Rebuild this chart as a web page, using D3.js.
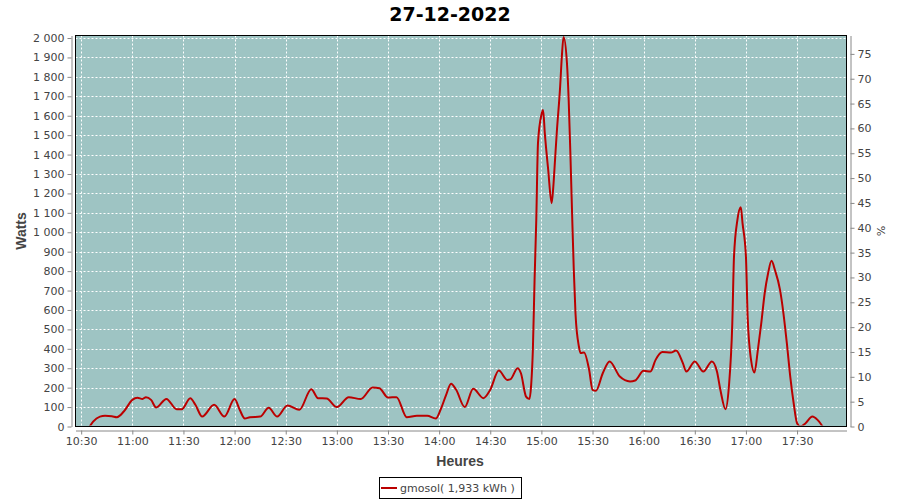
<!DOCTYPE html>
<html><head><meta charset="utf-8">
<script src="https://cdn.jsdelivr.net/npm/d3@7"></script>
<style>body{margin:0;background:#fff}svg{display:block}</style>
</head><body>
<svg id="c" width="900" height="500"></svg>
<script>
const title = "27-12-2022";
const seriesName = "gmosol( 1,933 kWh )";
const timeStart = "10:26:40";
const timeEnd = "17:59:00";
const times = ["10:35","10:37","10:41","10:44","10:48","10:51","10:55","11:00","11:03","11:06","11:08","11:11","11:14","11:20","11:26","11:29","11:34","11:37","11:41","11:48","11:54","12:00","12:03","12:06","12:09","12:15","12:20","12:25","12:31","12:38","12:45","12:49","12:54","13:00","13:07","13:14","13:21","13:25","13:30","13:35","13:41","13:47","13:53","13:58","14:01","14:04","14:07","14:10","14:15","14:20","14:26","14:30","14:35","14:40","14:42","14:46","14:48","14:51","14:53","14:54","14:55","14:56","14:57","14:58","15:00","15:01","15:02","15:04","15:06","15:07","15:08","15:09","15:11","15:12","15:13","15:15","15:16","15:17","15:18","15:19","15:20","15:22","15:23","15:25","15:28","15:30","15:32","15:36","15:40","15:46","15:52","15:55","16:00","16:04","16:07","16:11","16:16","16:19","16:23","16:25","16:30","16:35","16:40","16:43","16:45","16:48","16:50","16:52","16:53","16:55","16:57","16:58","17:00","17:01","17:03","17:05","17:07","17:09","17:11","17:13","17:15","17:17","17:20","17:22","17:24","17:26","17:28","17:30","17:32","17:35","17:39","17:42","17:45"];
const watts = [0,25,51,55,53,48,77,137,148,142,151,137,98,142,89,89,146,112,51,112,51,141,86,41,48,51,96,51,108,86,192,146,144,100,151,141,201,197,149,151,48,55,55,41,90,160,220,189,100,194,146,189,288,240,244,300,274,154,141,214,395,755,1064,1459,1604,1630,1510,1321,1150,1235,1373,1510,1750,1905,2005,1870,1682,1407,1098,807,583,412,378,381,292,189,184,274,335,257,232,237,287,283,343,383,381,391,326,283,335,283,335,283,189,89,206,532,875,1064,1129,1047,875,566,343,278,395,532,686,789,853,806,703,583,429,257,120,17,0,17,51,34,0];
const wattTicks = d3.range(0, 2001, 100);
const pctTicks = d3.range(0, 76, 5);
const wattMax = 2013;
const pctMax = 78.7;

const svg = d3.select("#c");
const L = 75.5, R = 846.5, T = 35.5, B = 426.5;
const parse = d3.timeParse("%H:%M");
const parseS = d3.timeParse("%H:%M:%S");
const data = times.map((t, i) => ({t: parse(t), v: watts[i]}));

const x = d3.scaleTime().domain([parseS(timeStart), parseS(timeEnd)]).range([L, R]);
const y = d3.scaleLinear().domain([0, wattMax]).range([B, T]);
const y2 = d3.scaleLinear().domain([0, pctMax]).range([B, T]);
const xTicks = d3.timeMinute.every(30).range(parse("10:30"), parse("17:31"));

const font = "DejaVu Sans, sans-serif";

svg.append("rect").attr("x", L).attr("y", T).attr("width", R - L).attr("height", B - T).attr("fill", "#9ec4c3");

const grid = svg.append("g").attr("stroke", "#fff").attr("stroke-width", 1).attr("stroke-dasharray", "2,2");
grid.selectAll("line.h").data(wattTicks).join("line")
  .attr("x1", L).attr("x2", R).attr("y1", d => Math.round(y(d)) + 0.5).attr("y2", d => Math.round(y(d)) + 0.5);
grid.selectAll("line.v").data(xTicks).join("line")
  .attr("y1", T).attr("y2", B).attr("x1", d => Math.round(x(d)) + 0.5).attr("x2", d => Math.round(x(d)) + 0.5);

svg.append("clipPath").attr("id", "clip").append("rect").attr("x", L).attr("y", T - 2).attr("width", R - L).attr("height", B - T + 1);

svg.append("path").datum(data).attr("clip-path", "url(#clip)")
  .attr("fill", "none").attr("stroke", "#bb0000").attr("stroke-width", 2).attr("stroke-linejoin", "round")
  .attr("d", d3.line().x(d => x(d.t)).y(d => y(d.v)).curve(d3.curveMonotoneX));

svg.append("rect").attr("x", L).attr("y", T).attr("width", R - L).attr("height", B - T)
  .attr("fill", "none").attr("stroke", "#000").attr("stroke-width", 1);

function styleAxis(g) {
  g.selectAll(".domain").attr("stroke", "#888");
  g.selectAll(".tick line").attr("stroke", "#888");
  g.selectAll(".tick text").attr("fill", "#444").attr("font-family", font).attr("font-size", 11);
}

const fmtW = d => d3.format(",")(d).replace(/,/g, " ");
svg.append("g").attr("transform", "translate(71.5,0)")
  .call(d3.axisLeft(y).tickValues(wattTicks).tickFormat(fmtW).tickSize(4).tickSizeOuter(0).tickPadding(3))
  .call(styleAxis);

svg.append("g").attr("transform", "translate(850.5,0)")
  .call(d3.axisRight(y2).tickValues(pctTicks).tickSize(4).tickSizeOuter(0).tickPadding(3))
  .call(styleAxis);

svg.append("g").attr("transform", "translate(0,430.5)")
  .call(d3.axisBottom(x).tickValues(xTicks).tickFormat(d3.timeFormat("%H:%M")).tickSize(4).tickSizeOuter(0).tickPadding(3))
  .call(styleAxis);

svg.append("text").attr("x", 450).attr("y", 21).attr("text-anchor", "middle")
  .attr("font-family", font).attr("font-weight", "bold").attr("font-size", 19).attr("fill", "#000").text(title);

svg.append("text").attr("x", 460).attr("y", 466).attr("text-anchor", "middle")
  .attr("font-family", "Liberation Sans, Arial, sans-serif").attr("font-weight", "bold").attr("font-size", 14).attr("fill", "#444").text("Heures");
svg.append("text").attr("transform", "translate(26,231) rotate(-90)").attr("text-anchor", "middle")
  .attr("font-family", "Liberation Sans, Arial, sans-serif").attr("font-weight", "bold").attr("font-size", 14).attr("fill", "#444").text("Watts");
svg.append("text").attr("transform", "translate(877,231) rotate(90)").attr("text-anchor", "middle")
  .attr("font-family", font).attr("font-size", 11).attr("fill", "#444").text("%");

const lg = svg.append("g");
lg.append("rect").attr("x", 379.5).attr("y", 477.5).attr("width", 142).attr("height", 21).attr("fill", "#fff").attr("stroke", "#000");
lg.append("line").attr("x1", 381).attr("x2", 397).attr("y1", 488).attr("y2", 488).attr("stroke", "#bb0000").attr("stroke-width", 2);
lg.append("text").attr("x", 400).attr("y", 492).attr("font-family", font).attr("font-size", 11).attr("fill", "#444").text(seriesName);
</script>
</body></html>
